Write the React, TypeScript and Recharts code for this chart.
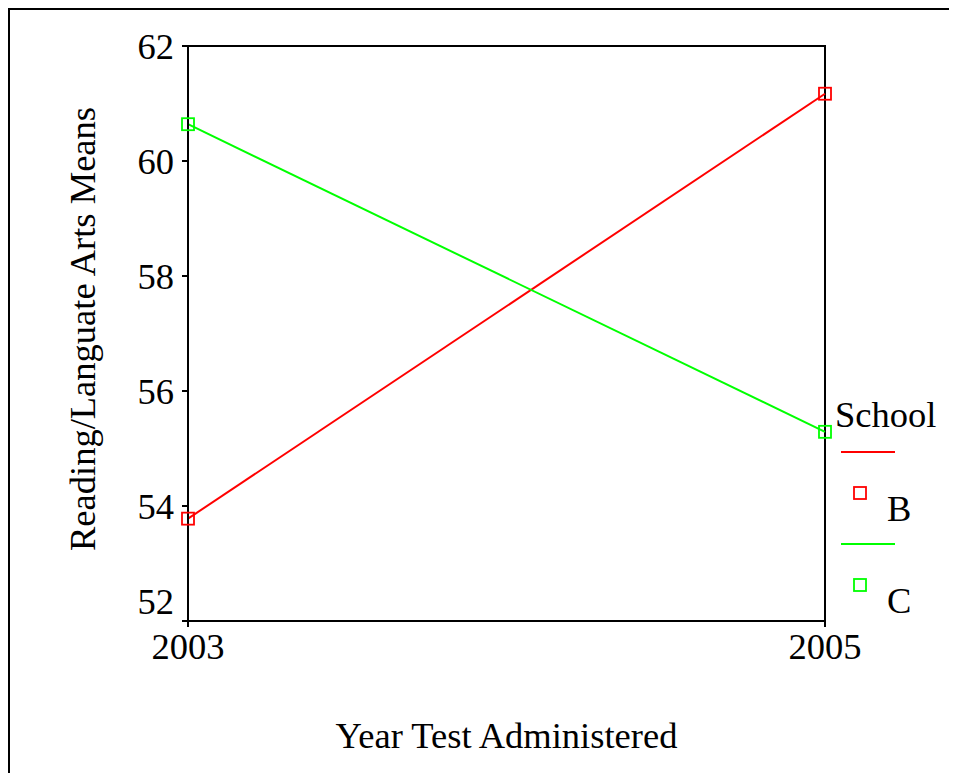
import React from 'react';
import { LineChart, Line, XAxis, YAxis, ReferenceArea } from 'recharts';

const years = [2003, 2005];
const schoolB = [53.78, 61.17];
const schoolC = [60.64, 55.29];
const yTicks = [52, 54, 56, 58, 60, 62];
const xTicks = [2003, 2005];

const series = [
  { key: 'B', name: 'B', color: '#ff0000' },
  { key: 'C', name: 'C', color: '#00ff00' }
];

const data = years.map((year, i) => ({ year, B: schoolB[i], C: schoolC[i] }));

const FONT = '"Liberation Serif", "Times New Roman", serif';
const FS = 36.5;

function SquareDot(props: any) {
  const { cx, cy, stroke } = props;
  if (cx == null || cy == null) return null;
  return <rect x={cx - 6} y={cy - 6} width={12} height={12} fill="none" stroke={stroke} strokeWidth={1.8} />;
}

function YTick(props: any) {
  const { x, y, payload } = props;
  // bottom label sits higher so it doesn't crowd the x labels
  const shift = payload.value === 52 ? -20 : 0;
  return (
    <text x={x} y={y + shift} textAnchor="end" dominantBaseline="central" fontFamily={FONT} fontSize={FS} fill="#000">
      {payload.value}
    </text>
  );
}

function XTick(props: any) {
  const { x, y, payload } = props;
  return (
    <text x={x} y={y} dy="0.71em" textAnchor="middle" fontFamily={FONT} fontSize={FS} fill="#000">
      {payload.value}
    </text>
  );
}

function SchoolLegend() {
  return (
    <svg width={125} height={240} style={{ position: 'absolute', left: 820, top: 380, fontFamily: FONT }}>
      <text x={5} y={37} fontSize={FS} fill="#000">School</text>
      {series.map((s, i) => {
        const base = i * 92;
        return (
          <g key={s.key}>
            <line x1={11} x2={65} y1={62 + base} y2={62 + base} stroke={s.color} strokeWidth={2} />
            <rect x={24} y={97 + base} width={12} height={12} fill="none" stroke={s.color} strokeWidth={1.8} />
            <text x={57} y={131 + base} fontSize={FS} fill="#000">{s.name}</text>
          </g>
        );
      })}
    </svg>
  );
}

export default function App() {
  return (
    <div style={{ position: 'relative', width: 949, height: 763, borderTop: '2px solid #000', borderLeft: '2px solid #000' }}>
      <style>{'html, body { overflow: hidden; }'}</style>
      <LineChart
        width={947}
        height={763}
        data={data}
        margin={{ top: 36, right: 132, bottom: 112, left: 118 }}
      >
        <XAxis
          dataKey="year"
          type="number"
          domain={[2003, 2005]}
          ticks={xTicks}
          tick={<XTick />}
          tickSize={6}
          tickMargin={6}
          height={40}
          axisLine={{ stroke: '#000', strokeWidth: 2 }}
          tickLine={{ stroke: '#000', strokeWidth: 2 }}
          label={{
            content: (p: any) => {
              const vb = p.viewBox || { x: 178, width: 637 };
              return (
                <text x={vb.x + vb.width / 2} y={738} textAnchor="middle" fontFamily={FONT} fontSize={FS} fill="#000">
                  Year Test Administered
                </text>
              );
            }
          }}
        />
        <YAxis
          type="number"
          domain={[52, 62]}
          ticks={yTicks}
          tick={<YTick />}
          tickSize={6}
          tickMargin={8}
          width={60}
          axisLine={{ stroke: '#000', strokeWidth: 2 }}
          tickLine={{ stroke: '#000', strokeWidth: 2 }}
          label={{
            content: () => (
              <text x={72} y={319} transform="rotate(-90 72 319)" textAnchor="middle" dominantBaseline="central" fontFamily={FONT} fontSize={FS} fill="#000">
                Reading/Languate Arts Means
              </text>
            )
          }}
        />
        <ReferenceArea x1={2003} x2={2005} y1={52} y2={62} fill="none" stroke="#000" strokeWidth={2} />
        {series.map(s => (
          <Line
            key={s.key}
            type="linear"
            dataKey={s.key}
            name={s.name}
            stroke={s.color}
            strokeWidth={2}
            dot={<SquareDot />}
            activeDot={false}
            isAnimationActive={false}
          />
        ))}
      </LineChart>
      <SchoolLegend />
    </div>
  );
}
